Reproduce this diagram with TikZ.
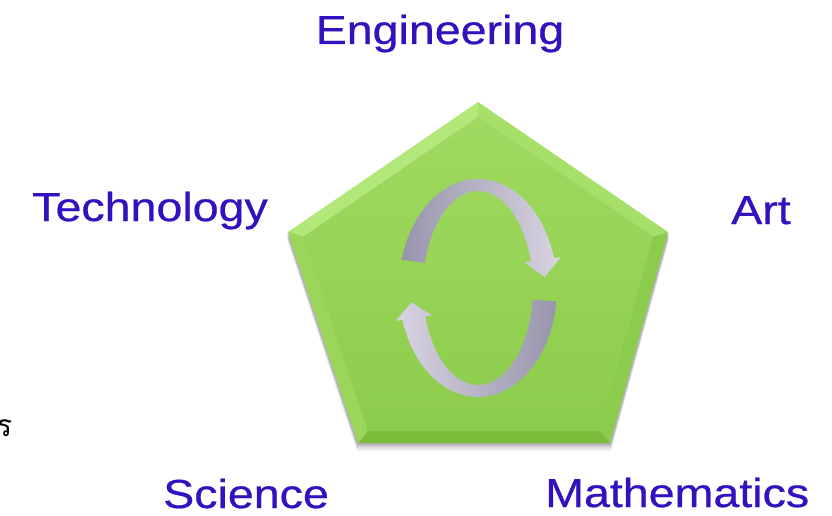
\documentclass[tikz,border=0pt]{standalone}
\usepackage{fontspec}
\setmainfont{Liberation Sans}[FakeStretch=1.15,FakeBold=0.6]
\newfontfamily\thaifont[Script=Thai]{Loma}
\usetikzlibrary{calc}
\definecolor{lblc}{RGB}{51,17,190}
\definecolor{ptop}{RGB}{160,218,96}
\definecolor{pbot}{RGB}{140,204,76}
\definecolor{fTL}{RGB}{178,232,122}
\definecolor{fTR}{RGB}{166,224,104}
\definecolor{fR}{RGB}{140,204,76}
\definecolor{fB}{RGB}{124,190,60}
\definecolor{fL}{RGB}{154,214,90}
\definecolor{arrdark}{RGB}{152,148,172}
\definecolor{arrlight}{RGB}{216,212,226}
\tikzset{
  lbl/.style={text=lblc, font=\fontsize{40.5}{44}\selectfont, inner sep=0pt},
}
\begin{document}
\begin{tikzpicture}[x=1pt,y=1pt]
\useasboundingbox (0,0) rectangle (832,-516);
% pentagon vertices
\coordinate (T) at (478,-102);
\coordinate (R) at (668,-232);
\coordinate (BR) at (610,-443);
\coordinate (BL) at (358,-443);
\coordinate (L) at (288,-232);
\coordinate (PC) at (480,-290);
\foreach \v in {T,R,BR,BL,L} { \coordinate (i\v) at ($(PC)!0.92!(\v)$); }
% shadow
\foreach \o/\op in {8/0.05,6/0.07,4/0.09,2/0.12}{
  \fill[black,opacity=\op] ($(T)+(0,-\o)$) -- ($(R)+(1,-\o)$) -- ($(BR)+(1,-\o)$) -- ($(BL)+(-1,-\o)$) -- ($(L)+(-1,-\o)$) -- cycle;
}
% bevel facets
\fill[fTL] (T) -- (L) -- (iL) -- (iT) -- cycle;
\fill[fTR] (T) -- (R) -- (iR) -- (iT) -- cycle;
\fill[fR] (R) -- (BR) -- (iBR) -- (iR) -- cycle;
\fill[fB] (BR) -- (BL) -- (iBL) -- (iBR) -- cycle;
\fill[fL] (BL) -- (L) -- (iL) -- (iBL) -- cycle;
% face
\shade[top color=ptop, bottom color=pbot] (iT) -- (iR) -- (iBR) -- (iBL) -- (iL) -- cycle;
% circular arrows
\coordinate (C) at (478,-288);
\shade[left color=arrdark, right color=arrlight]
  ($(C)+(165:79 and 109)$) arc[start angle=165, end angle=16, x radius=79, y radius=109]
  -- ($(C)+(16:86 and 112)$) -- ($(C)+(6:67 and 103)$) -- ($(C)+(16:48 and 94)$)
  -- ($(C)+(16:55 and 97)$) arc[start angle=16, end angle=165, x radius=55, y radius=97] -- cycle;
\shade[left color=arrlight, right color=arrdark]
  ($(C)+(-7:79 and 109)$) arc[start angle=-7, end angle=-163, x radius=79, y radius=109]
  -- ($(C)+(-163:86 and 112)$) -- ($(C)+(-172:67 and 103)$) -- ($(C)+(-163:48 and 94)$)
  -- ($(C)+(-163:55 and 97)$) arc[start angle=-163, end angle=-7, x radius=55, y radius=97] -- cycle;
% labels
\node[lbl, anchor=base] (eng) at (440,-44) {Engineering};
\node[lbl, anchor=base east] (tech) at (268,-221) {Technology};
\node[lbl, anchor=base west] (art) at (731,-224) {Art};
\node[lbl, anchor=base west] (sci) at (163,-508) {Science};
\node[lbl, anchor=base west] (math) at (545,-507) {Mathematics};
\node[inner sep=0pt, anchor=base west, font=\thaifont\fontsize{30}{32}\selectfont] (th) at (-4,-436) {ร};
\end{tikzpicture}
\end{document}
